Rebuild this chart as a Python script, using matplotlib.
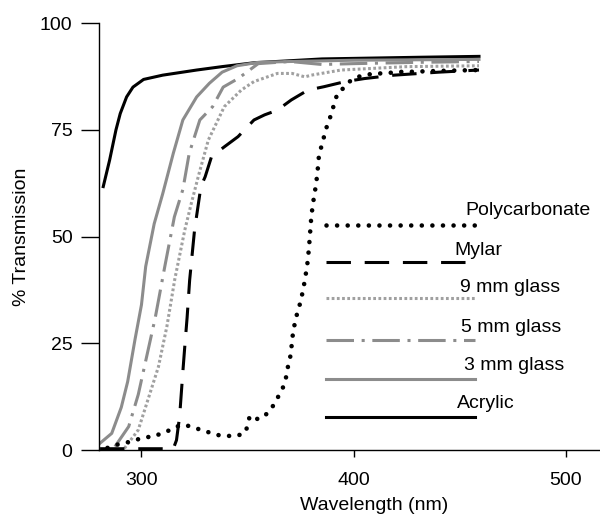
import matplotlib
matplotlib.use("Agg")
import matplotlib.pyplot as plt

plt.rcParams['font.family'] = ['Liberation Sans', 'DejaVu Sans']

# ---- data ----
acrylic_nm = [282, 285, 288, 290, 293, 296, 301, 310, 326, 338, 353, 385, 432, 459]
acrylic_t = [61.7, 67.9, 75, 78.8, 82.7, 85, 86.8, 87.8, 89, 89.8, 90.7, 91.6, 92, 92.2]

glass3_nm = [280.5, 286, 290.5, 293.5, 297, 300, 302, 306, 310, 315, 319.5, 326, 332, 338,
             345, 355, 370, 400, 430, 459]
glass3_t = [1.6, 3.9, 10, 16, 26, 34, 43, 53, 60, 69.5, 77.3, 82.7, 85.9, 88.5,
            90, 90.8, 91, 91.3, 91.4, 91.5]

glass5_nm = [287.5, 294, 298.5, 302.5, 306.5, 311, 315.5, 319.5, 322.5, 327.5, 333.5, 338.5,
             345.5, 355, 370, 385, 400, 430, 459]
glass5_t = [0.8, 5.5, 13, 22, 31, 43, 54.6, 61, 69.5, 77.3, 80.4, 85,
            87, 90.5, 91, 90.3, 90.5, 90.8, 91]

glass9_nm = [292, 298.5, 303, 308, 312, 315.7, 320.4, 323.5, 327, 331.5, 339, 347, 353,
             364, 371, 377, 380, 394, 425, 459]
glass9_t = [0.4, 4.7, 11.7, 19.5, 29, 40, 51.5, 57.8, 64.5, 72.6, 80.4, 84.3, 86.3,
            88.2, 88.2, 87.4, 87.8, 89, 89.8, 90]

mylar_nm = [280.5, 315, 316.5, 318, 319.6, 320.4, 321.5, 322.7, 325, 328, 330, 333, 339,
            345.5, 353, 358, 364, 370.6, 378.4, 386, 396, 405, 419, 440, 459]
mylar_t = [0.3, 0.3, 2.3, 8, 19, 24.2, 31, 39.8, 51.5, 61.7, 64, 68.7, 71,
           73.4, 77.3, 78.5, 79.6, 82, 84.3, 85.1, 86.3, 87, 87.8, 88.5, 89]

poly_nm = [284, 288, 292, 297, 301.6, 305.5, 309.4, 312.6, 316.5, 320.4, 324.3, 328.2, 332,
           336, 341, 345, 349, 350.2, 351, 355, 358, 361, 365, 367, 368.2, 369, 370, 370.6,
           371.5, 372.6, 373.7, 375, 377, 378.4, 379.2, 380, 380.8, 381.6, 382.8, 383.6,
           384.7, 386, 387, 388.6, 390, 391, 392.6, 396, 398, 402, 405, 410, 414.5, 418,
           423, 427, 440, 459]
poly_t = [0.5, 1.2, 1.6, 2.3, 3, 3.1, 3.9, 4.5, 5.5, 5.9, 5.3, 4.7, 4.1,
          3.5, 3.3, 3.3, 4.1, 6.2, 8, 7.2, 8, 9.5, 13, 15, 17.2, 19.5, 21.5, 23.8,
          28, 30.4, 32.8, 34.7, 39.8, 44.5, 49.2, 54.6, 57.8, 60.1, 64.4, 68.9,
          71, 73.4, 75.3, 77.5, 79.6, 81.7, 83.7, 85.1, 86.3, 87.4, 87.8, 88.2, 88.2, 88.4,
          88.6, 88.6, 88.8, 89]

labels = ["Polycarbonate", "Mylar", "9 mm glass", "5 mm glass", "3 mm glass", "Acrylic"]
x_ticks = [300, 400, 500]
y_ticks = [0, 25, 50, 75, 100]

# ---- styles ----
styles = {
    "Polycarbonate": dict(color="black", lw=3.3, ls=(0, (0.01, 2.3)), dash_capstyle="round"),
    "Mylar": dict(color="black", lw=2.2, ls=(0, (8, 4.5))),
    "9 mm glass": dict(color="#a0a0a0", lw=2.2, ls=(0, (0.9, 0.8))),
    "5 mm glass": dict(color="#8c8c8c", lw=2.2, ls=(0, (9, 2.5, 1, 2.5))),
    "3 mm glass": dict(color="#8c8c8c", lw=2.2, ls="-"),
    "Acrylic": dict(color="black", lw=2.2, ls="-"),
}
series = {
    "Polycarbonate": (poly_nm, poly_t),
    "Mylar": (mylar_nm, mylar_t),
    "9 mm glass": (glass9_nm, glass9_t),
    "5 mm glass": (glass5_nm, glass5_t),
    "3 mm glass": (glass3_nm, glass3_t),
    "Acrylic": (acrylic_nm, acrylic_t),
}

fig = plt.figure(figsize=(6, 5.15), dpi=100)
ax = fig.add_axes([0.165, 0.1262, 0.835, 0.829])

def style_kw(name):
    st = styles[name]
    kw = dict(color=st["color"], linewidth=st["lw"], linestyle=st["ls"])
    if "dash_capstyle" in st:
        kw["dash_capstyle"] = st["dash_capstyle"]
    return kw

for name in ["Acrylic", "3 mm glass", "5 mm glass", "9 mm glass", "Mylar", "Polycarbonate"]:
    x, y = series[name]
    ax.plot(x, y, **style_kw(name))

# in-plot key (layout positions)
key_y = [52.7, 44.0, 35.6, 25.8, 16.6, 7.7]
key_text_x = [452.5, 447.3, 450.1, 450.6, 452.0, 448.7]
key_text_y = [56.2, 46.8, 38.0, 28.8, 19.9, 11.0]
for name, ly, tx, ty in zip(labels, key_y, key_text_x, key_text_y):
    ax.plot([387, 457], [ly, ly], **style_kw(name))
    ax.text(tx, ty, name, fontsize=14, ha="left", va="center")

ax.set_xlim(280, 516)
ax.set_ylim(0, 100)
ax.set_xticks(x_ticks)
ax.set_yticks(y_ticks)
ax.spines["top"].set_visible(False)
ax.spines["right"].set_visible(False)
for s in ["left", "bottom"]:
    ax.spines[s].set_linewidth(1.0)
ax.tick_params(axis="y", length=13, width=1.0, labelsize=14, pad=6)
ax.tick_params(axis="x", length=5, width=1.0, labelsize=14, pad=11)
ax.set_xlabel("Wavelength (nm)", fontsize=14)
ax.xaxis.set_label_coords(0.549, -0.111)
ax.set_ylabel("% Transmission", fontsize=14, labelpad=7)

fig.savefig("out.png", dpi=100)
